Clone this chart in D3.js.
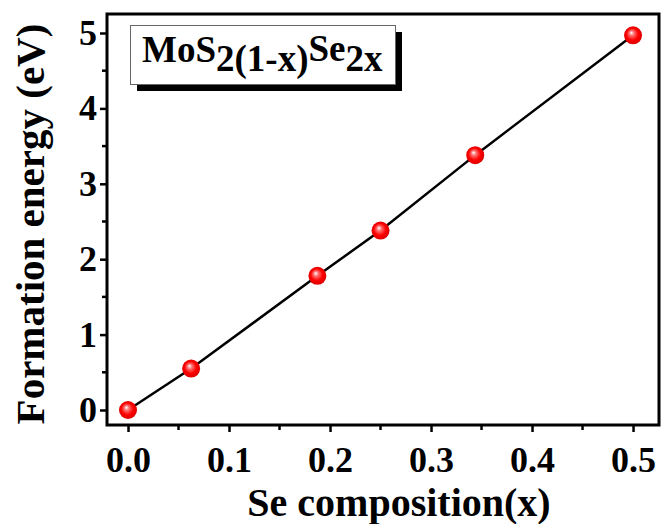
<!DOCTYPE html>
<html>
<head>
<meta charset="utf-8">
<script src="https://cdn.jsdelivr.net/npm/d3@7"></script>
<style>
  html, body { margin: 0; padding: 0; background: #fff; }
  svg text { font-family: "Liberation Serif", "Times New Roman", serif; font-weight: bold; fill: #000; }
</style>
</head>
<body>
<div id="canvas"></div>
<script>
// data
var composition = [0, 0.0625, 0.1875, 0.25, 0.34375, 0.5];
var formationEnergy = [0, 0.55, 1.78, 2.38, 3.38, 4.97];
var xTicks = [0, 0.1, 0.2, 0.3, 0.4, 0.5];
var yTicks = [0, 1, 2, 3, 4, 5];
var xMinor = [0.05, 0.15, 0.25, 0.35, 0.45];
var yMinor = [0.5, 1.5, 2.5, 3.5, 4.5];

var W = 662, H = 524;
var frame = {left: 107, right: 659, top: 14, bottom: 425};

var svg = d3.select("#canvas").append("svg")
    .attr("width", W)
    .attr("height", H);

var defs = svg.append("defs");
var grad = defs.append("radialGradient")
    .attr("id", "ball")
    .attr("cx", "50%").attr("cy", "50%").attr("r", "55%")
    .attr("fx", "40%").attr("fy", "35%");
grad.append("stop").attr("offset", "0%").attr("stop-color", "#ffffff");
grad.append("stop").attr("offset", "25%").attr("stop-color", "#ff7070");
grad.append("stop").attr("offset", "60%").attr("stop-color", "#ff0000");
grad.append("stop").attr("offset", "100%").attr("stop-color", "#d40000");

var xScale = d3.scaleLinear()
    .domain([-0.0208, 0.5257])
    .range([frame.left, frame.right]);

var yScale = d3.scaleLinear()
    .domain([-0.199, 5.252])
    .range([frame.bottom, frame.top]);

// axes (outward ticks, bottom and left only)
var xAxis = d3.axisBottom(xScale)
    .tickValues(xTicks)
    .tickSize(7)
    .tickPadding(14)
    .tickFormat(d3.format(".1f"));

var yAxis = d3.axisLeft(yScale)
    .tickValues(yTicks)
    .tickSize(7)
    .tickPadding(3)
    .tickFormat(d3.format("d"));

var gx = svg.append("g")
    .attr("transform", "translate(0," + frame.bottom + ")")
    .call(xAxis);
gx.select(".domain").remove();
gx.selectAll(".tick line").attr("stroke", "#000").attr("stroke-width", 2.5);
gx.selectAll(".tick text")
    .attr("font-size", 36)
    .attr("font-family", "Liberation Serif")
    .attr("font-weight", "bold")
    .attr("fill", "#000");

gx.selectAll(".minor").data(xMinor).enter().append("line")
    .attr("x1", function(d) { return xScale(d); })
    .attr("x2", function(d) { return xScale(d); })
    .attr("y1", 0).attr("y2", 5)
    .attr("stroke", "#000").attr("stroke-width", 2.5);

var gy = svg.append("g")
    .attr("transform", "translate(" + frame.left + ",0)")
    .call(yAxis);
gy.select(".domain").remove();
gy.selectAll(".tick line").attr("stroke", "#000").attr("stroke-width", 2.5);
gy.selectAll(".tick text")
    .attr("font-size", 36)
    .attr("font-family", "Liberation Serif")
    .attr("font-weight", "bold")
    .attr("fill", "#000");

gy.selectAll(".minor").data(yMinor).enter().append("line")
    .attr("y1", function(d) { return yScale(d); })
    .attr("y2", function(d) { return yScale(d); })
    .attr("x1", 0).attr("x2", -5)
    .attr("stroke", "#000").attr("stroke-width", 2.5);

// frame
svg.append("rect")
    .attr("x", frame.left)
    .attr("y", frame.top)
    .attr("width", frame.right - frame.left)
    .attr("height", frame.bottom - frame.top)
    .attr("fill", "none")
    .attr("stroke", "#000")
    .attr("stroke-width", 3);

// data line + points
var pts = composition.map(function(c, i) { return {x: c, y: formationEnergy[i]}; });

var valueline = d3.line()
    .x(function(d) { return xScale(d.x); })
    .y(function(d) { return yScale(d.y); });

svg.append("path")
    .datum(pts)
    .attr("d", valueline)
    .attr("fill", "none")
    .attr("stroke", "#000")
    .attr("stroke-width", 2.5);

svg.selectAll(".pt").data(pts).enter().append("circle")
    .attr("class", "pt")
    .attr("cx", function(d) { return xScale(d.x); })
    .attr("cy", function(d) { return yScale(d.y); })
    .attr("r", 9)
    .attr("fill", "url(#ball)");

// legend box with shadow
var legend = svg.append("g");
legend.append("rect")
    .attr("x", 137).attr("y", 32)
    .attr("width", 265).attr("height", 59)
    .attr("fill", "#000");
legend.append("rect")
    .attr("x", 130.5).attr("y", 25.5)
    .attr("width", 265).attr("height", 59)
    .attr("fill", "#fff")
    .attr("stroke", "#666")
    .attr("stroke-width", 1);

var lt = legend.append("text")
    .attr("x", 142)
    .attr("y", 62)
    .attr("font-size", 37);
lt.append("tspan").text("MoS");
lt.append("tspan").attr("dy", 9).text("2(1-x)");
lt.append("tspan").attr("dy", -10).text("Se");
lt.append("tspan").attr("dy", 10).text("2x");

// axis titles
svg.append("text")
    .attr("x", 399)
    .attr("y", 516)
    .attr("text-anchor", "middle")
    .attr("font-size", 40)
    .text("Se composition(x)");

svg.append("text")
    .attr("transform", "translate(44,224) rotate(-90)")
    .attr("text-anchor", "middle")
    .attr("font-size", 41)
    .text("Formation energy (eV)");
</script>
</body>
</html>
